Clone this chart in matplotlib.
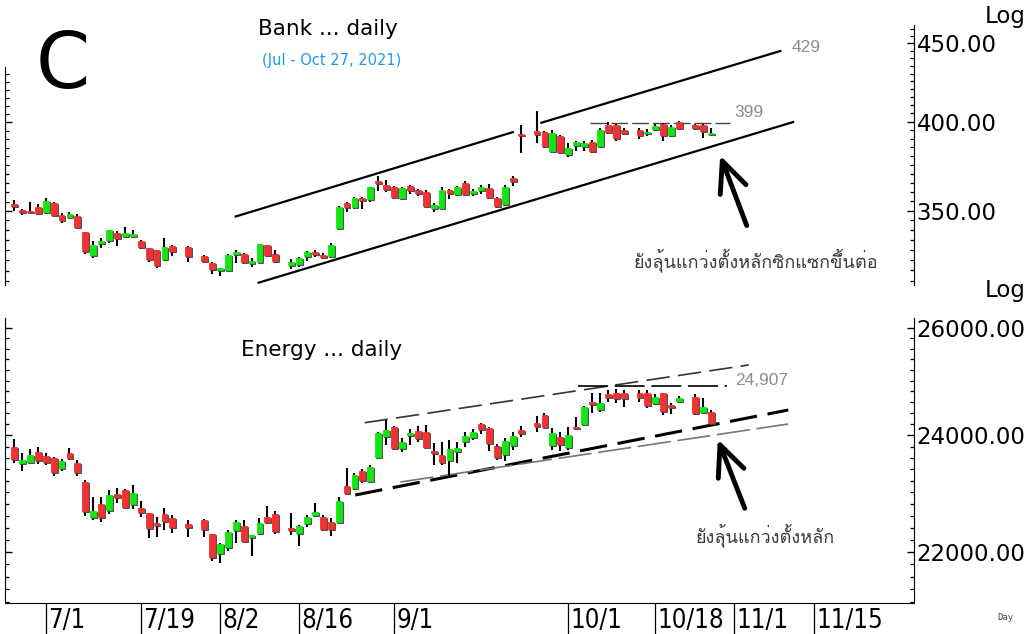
import numpy as np
import matplotlib
matplotlib.use("Agg")
import matplotlib.pyplot as plt
from matplotlib.ticker import FixedLocator, MultipleLocator, FormatStrFormatter, NullFormatter
from matplotlib.transforms import offset_copy
from matplotlib import font_manager
from matplotlib.font_manager import FontProperties

# trading days (Jul - Oct 27, 2021), x position = weekday count from the first day
dates = ['2021-06-25', '2021-06-28', '2021-06-29', '2021-06-30',
         '2021-07-01', '2021-07-02', '2021-07-05', '2021-07-06', '2021-07-07', '2021-07-08', '2021-07-09',
         '2021-07-12', '2021-07-13', '2021-07-14', '2021-07-15', '2021-07-16', '2021-07-19', '2021-07-20',
         '2021-07-21', '2021-07-22', '2021-07-23', '2021-07-27', '2021-07-29', '2021-07-30',
         '2021-08-02', '2021-08-03', '2021-08-04', '2021-08-05', '2021-08-06', '2021-08-09', '2021-08-10',
         '2021-08-11', '2021-08-13', '2021-08-16', '2021-08-17', '2021-08-18', '2021-08-19', '2021-08-20',
         '2021-08-23', '2021-08-24', '2021-08-25', '2021-08-26', '2021-08-27', '2021-08-30', '2021-08-31',
         '2021-09-01', '2021-09-02', '2021-09-03', '2021-09-06', '2021-09-07', '2021-09-08', '2021-09-09',
         '2021-09-10', '2021-09-13', '2021-09-14', '2021-09-15', '2021-09-16', '2021-09-17', '2021-09-20',
         '2021-09-21', '2021-09-22', '2021-09-23', '2021-09-27', '2021-09-28', '2021-09-29', '2021-09-30',
         '2021-10-01', '2021-10-04', '2021-10-05', '2021-10-06', '2021-10-07', '2021-10-08', '2021-10-11',
         '2021-10-12', '2021-10-14', '2021-10-15', '2021-10-18', '2021-10-19', '2021-10-20', '2021-10-21',
         '2021-10-25', '2021-10-26', '2021-10-27']

bank_open = [353.8, 350.4, 350.0, 352.1, 349.6, 354.2, 347.9, 346.8, 347.4, 338.9,
             327.5, 333.4, 335.2, 338.6, 337.2, 337.0, 334.5, 330.8, 330.1, 325.4,
             332.0, 331.5, 327.1, 323.8, 320.1, 320.1, 328.2, 328.2, 323.6, 324.3,
             332.3, 328.2, 322.7, 323.0, 326.9, 329.2, 327.5, 326.9, 341.3, 354.2,
             351.9, 356.8, 356.2, 365.8, 363.9, 362.9, 356.8, 363.4, 361.1, 360.2,
             351.4, 351.4, 361.1, 359.0, 365.0, 359.3, 361.1, 362.2, 356.8, 353.5,
             367.6, 392.9, 394.4, 393.8, 382.7, 391.3, 381.2, 386.4, 385.8, 388.1,
             386.0, 398.2, 398.2, 394.8, 394.8, 393.2, 395.4, 398.8, 392.2, 399.8,
             398.2, 398.2, 392.9]
bank_high = [355.7, 350.9, 354.4, 353.5, 356.7, 354.4, 348.9, 349.6, 348.3, 338.9,
             334.5, 335.9, 339.9, 339.6, 341.6, 340.1, 334.9, 330.8, 330.1, 335.9,
             332.3, 331.8, 327.5, 324.3, 321.4, 327.9, 330.1, 328.5, 325.9, 333.1,
             332.5, 329.9, 325.4, 326.6, 329.5, 329.9, 328.7, 333.5, 352.6, 354.4,
             357.5, 357.5, 362.9, 368.9, 366.6, 363.4, 362.5, 364.0, 361.6, 361.1,
             353.9, 362.5, 361.4, 363.4, 366.2, 361.4, 363.6, 364.4, 357.5, 363.6,
             368.9, 398.2, 406.8, 394.4, 394.8, 391.9, 387.3, 388.9, 388.9, 389.3,
             396.4, 399.8, 398.8, 396.4, 396.0, 395.6, 398.8, 399.2, 397.8, 400.2,
             398.8, 398.8, 396.0]
bank_low = [350.0, 347.9, 348.6, 347.9, 348.3, 347.4, 343.8, 346.1, 341.0, 327.9,
            325.9, 330.8, 333.6, 332.0, 336.5, 336.5, 330.3, 324.3, 321.0, 324.6,
            327.1, 324.3, 323.8, 318.2, 317.4, 319.8, 323.8, 323.3, 321.7, 323.8,
            326.6, 323.6, 320.6, 321.7, 324.6, 326.6, 326.2, 326.6, 340.0, 349.1,
            351.0, 351.0, 354.4, 360.7, 360.2, 356.8, 356.2, 359.0, 358.0, 352.1,
            349.6, 350.9, 356.2, 357.9, 358.3, 358.0, 359.0, 356.2, 351.4, 352.6,
            363.4, 381.6, 387.7, 384.6, 382.1, 381.5, 379.6, 382.7, 383.1, 381.5,
            385.0, 392.9, 388.9, 391.9, 389.9, 391.5, 394.4, 388.9, 390.8, 394.8,
            394.8, 390.1, 391.9]
bank_close = [352.6, 349.1, 349.1, 348.8, 354.9, 347.7, 345.1, 348.3, 341.7, 329.5,
              332.5, 334.5, 339.9, 335.9, 338.4, 337.9, 331.5, 325.4, 322.6, 331.5,
              329.5, 327.1, 324.6, 320.6, 321.1, 327.5, 329.2, 324.3, 324.6, 332.8,
              327.5, 324.6, 324.3, 326.2, 329.2, 327.9, 326.6, 332.5, 352.1, 352.1,
              356.8, 355.7, 362.5, 364.7, 361.6, 357.5, 362.0, 361.1, 359.3, 352.6,
              353.2, 361.1, 359.3, 362.9, 359.0, 360.3, 362.9, 357.1, 352.6, 362.9,
              365.8, 391.9, 392.9, 386.0, 393.2, 382.1, 384.6, 388.1, 387.7, 382.7,
              395.2, 393.8, 390.5, 393.2, 392.2, 394.0, 397.2, 392.2, 396.8, 396.2,
              396.4, 394.4, 393.6]

en_open = [23787, 23504, 23532, 23709, 23633, 23592, 23417, 23681, 23515, 23184,
           22586, 22802, 22700, 22972, 23041, 22802, 22739, 22643, 22476, 22632,
           22559, 22464, 22531, 22297, 21988, 22087, 22364, 22431, 22242, 22309,
           22576, 22632, 22392, 22309, 22476, 22615, 22576, 22502, 22502, 23110,
           23070, 23375, 23201, 23610, 23988, 24155, 23769, 24006, 24083, 24065,
           23727, 23651, 23562, 23727, 23904, 23965, 24204, 24126, 23810, 23668,
           23828, 24096, 24216, 24367, 23828, 23975, 23787, 24155, 24204, 24609,
           24471, 24746, 24765, 24765, 24765, 24776, 24591, 24765, 24549, 24628,
           24690, 24427, 24427]
en_high = [23934, 23681, 23751, 23798, 23681, 23610, 23574, 23769, 23562, 23213,
           22916, 22916, 23041, 23070, 23053, 23122, 22852, 22643, 22586, 22729,
           22615, 22531, 22542, 22297, 22153, 22364, 22531, 22531, 22280, 22559,
           22768, 22688, 22654, 22447, 22615, 22813, 22615, 22559, 22926, 23417,
           23330, 23400, 23475, 24065, 24275, 24168, 23946, 24108, 24168, 24186,
           23858, 23886, 23916, 23886, 24065, 24108, 24227, 24155, 23845, 23946,
           24065, 24168, 24348, 24398, 24126, 24065, 24155, 24336, 24531, 24776,
           24765, 24826, 24839, 24826, 24826, 24826, 24752, 24776, 24591, 24715,
           24752, 24672, 24458]
en_low = [23504, 23375, 23504, 23487, 23475, 23283, 23375, 23562, 23283, 22603,
          22531, 22502, 22632, 22824, 22729, 22712, 22586, 22225, 22246, 22364,
          22319, 22242, 22242, 21857, 21815, 22021, 22153, 22169, 21934, 22280,
          22464, 22297, 22280, 22098, 22419, 22586, 22352, 22264, 22476, 22985,
          23041, 23156, 23184, 23592, 23828, 23739, 23709, 23828, 23886, 23769,
          23475, 23475, 23271, 23504, 23798, 23916, 24024, 23727, 23562, 23550,
          23739, 23976, 24065, 24126, 23739, 23727, 23739, 24096, 24186, 24398,
          24427, 24609, 24591, 24518, 24609, 24489, 24549, 24367, 24385, 24591,
          24367, 24398, 24204]
en_close = [23580, 23562, 23651, 23562, 23532, 23358, 23545, 23592, 23347, 22688,
            22688, 22586, 22955, 22916, 22746, 22985, 22661, 22392, 22447, 22519,
            22419, 22409, 22380, 21923, 22131, 22335, 22502, 22186, 22280, 22476,
            22502, 22352, 22364, 22431, 22586, 22671, 22375, 22375, 22857, 22995,
            23300, 23213, 23435, 24047, 24096, 23769, 23886, 24047, 23946, 23798,
            23681, 23532, 23751, 23769, 23988, 24065, 24108, 23868, 23610, 23904,
            23988, 24047, 24168, 24155, 24047, 23845, 24006, 24126, 24507, 24567,
            24580, 24690, 24672, 24672, 24690, 24549, 24702, 24445, 24507, 24672,
            24398, 24518, 24227]

tick_dates = ['2021-07-01', '2021-07-19', '2021-08-02', '2021-08-16', '2021-09-01',
              '2021-10-01', '2021-10-18', '2021-11-01', '2021-11-15']
tick_labels = ['7/1', '7/19', '8/2', '8/16', '9/1', '10/1', '10/18', '11/1', '11/15']

# trend lines: (day index, price)
bank_upper = [[(28.0, 347.0), (63.0, 393.8)], [(66.6, 399.4), (96.8, 444.8)]]
bank_lower = [(30.9, 314.2), (98.4, 399.8)]
bank_res = [(72.8, 399), (90.4, 399)]
en_upper = [(44.3, 24227), (92.8, 25293)]
en_res = [(71.2, 24907), (90.1, 24907)]
en_lower = [(43.1, 22955), (97.8, 24458)]
en_lower2 = [(48.8, 23179), (97.8, 24204)]

thai_top = 'ยังลุ้นแกว่งตั้งหลักซิกแซกขึ้นต่อ'
thai_bot = 'ยังลุ้นแกว่งตั้งหลัก'


def has_glyphs(path, codes):
    try:
        from fontTools.ttLib import TTFont
        cm = TTFont(path, fontNumber=0, lazy=True).getBestCmap()
        return bool(cm) and all(c in cm for c in codes)
    except Exception:
        return False


# a font with Thai glyphs
thai_font = None
for fe in font_manager.fontManager.ttflist:
    if has_glyphs(fe.fname, [0x0E22, 0x0E49]):
        thai_font = fe.name
        break
thai_fam = [thai_font, 'DejaVu Sans'] if thai_font else ['DejaVu Sans']

# a narrow font for the date labels
cands = [fe for fe in font_manager.fontManager.ttflist
         if ('Narrow' in fe.name or 'Condensed' in fe.name or 'condensed' in str(fe.stretch))
         and fe.weight in (400, 'normal', 'regular') and fe.style == 'normal']
cands.sort(key=lambda fe: (0 if 'Liberation' in fe.name else 1 if 'DejaVu' in fe.name else 2))
if cands:
    narrow = FontProperties(fname=cands[0].fname, size=18.5)
else:
    narrow = FontProperties(family='DejaVu Sans', size=15)

start = dates[0]
x = np.busday_count(start, dates)
xt = np.busday_count(start, tick_dates)

W, H = 1027, 634
fig = plt.figure(figsize=(W / 100, H / 100), dpi=100)
ax1 = fig.add_axes([5 / W, 1 - 285 / H, 909 / W, 260 / H])
ax2 = fig.add_axes([5 / W, 1 - 603 / H, 909 / W, 285 / H])
# short left scale of the upper panel
ax1l = fig.add_axes([5 / W, 1 - 285 / H, 0.0001, 218 / H])

RED = '#F03232'
GREEN = '#14E614'


def candles(ax, o, h, l, c):
    o, h, l, c = map(np.asarray, (o, h, l, c))
    up = c >= o
    ax.vlines(x, l, h, color='black', lw=1.5, zorder=2)
    bot = np.minimum(o, c)
    ht = np.abs(c - o)
    sh = offset_copy(ax.transData, fig=fig, x=1.0, y=-1.0, units='dots')
    ax.bar(x, ht, width=0.74, bottom=bot, color='#444444', lw=0.6, edgecolor='#444444',
           transform=sh, zorder=2.5)
    ax.bar(x[up], ht[up], width=0.74, bottom=bot[up], color=GREEN, edgecolor=GREEN,
           lw=0.6, zorder=3)
    ax.bar(x[~up], ht[~up], width=0.74, bottom=bot[~up], color=RED, edgecolor=RED,
           lw=0.6, zorder=3)


def seg(ax, pts, **kw):
    ax.plot([p[0] for p in pts], [p[1] for p in pts], **kw)


candles(ax1, bank_open, bank_high, bank_low, bank_close)
candles(ax2, en_open, en_high, en_low, en_close)

for s in bank_upper:
    seg(ax1, s, color='black', lw=1.6, zorder=1)
seg(ax1, bank_lower, color='black', lw=1.6, zorder=1)
seg(ax1, bank_res, color='#444444', lw=1.0, dashes=(12, 3), zorder=1)

seg(ax2, en_upper, color='#333333', lw=1.2, dashes=(14, 5), zorder=1)
seg(ax2, en_res, color='black', lw=1.2, dashes=(18, 4), zorder=1)
seg(ax2, en_lower, color='black', lw=2.2, dashes=(9, 3.5), zorder=1)
seg(ax2, en_lower2, color='#777777', lw=1.2, dashes=(20, 4), zorder=1)

ax1.text(91.0, 405.6, '399', color='#8c8c8c', fontsize=12.5, va='center', ha='left',
         family='Liberation Sans')
ax1.text(98.2, 447.3, '429', color='#8c8c8c', fontsize=12.5, va='center', ha='left',
         family='Liberation Sans')
ax2.text(91.1, 25001, '24,907', color='#8c8c8c', fontsize=12.5, va='center', ha='left',
         family='Liberation Sans')

arrow = dict(arrowstyle='->,head_length=1.0,head_width=0.45', color='black', lw=3.5,
             mutation_scale=22, shrinkA=0, shrinkB=0)
ax1.annotate('', xy=(89.2, 380.3), xytext=(92.55, 342.3), arrowprops=arrow)
ax2.annotate('', xy=(88.9, 23929), xytext=(92.3, 22729), arrowprops=arrow)

for ax, lo, hi in ((ax1, 313.1, 462.5), (ax2, 21178.7, 26194.7), (ax1l, 313.1, 434.6)):
    ax.set_yscale('log')
    ax.set_ylim(lo, hi)
    ax.set_xlim(-1.14, 113.68)
    ax.patch.set_alpha(0)
    ax.spines['top'].set_visible(False)
    ax.tick_params(axis='y', which='both', left=True, right=True, labelleft=False,
                   labelright=True, direction='in', labelsize=16.5, pad=2)
    ax.tick_params(axis='y', which='major', length=5, width=1)
    ax.tick_params(axis='y', which='minor', length=3, width=0.9)
    ax.yaxis.set_major_formatter(FormatStrFormatter('%.2f'))
    ax.yaxis.set_minor_formatter(NullFormatter())

ax1.yaxis.set_major_locator(FixedLocator([350, 400, 450]))
ax1.yaxis.set_minor_locator(MultipleLocator(5))
ax1.spines['bottom'].set_visible(False)
ax1.spines['left'].set_visible(False)
ax1.tick_params(axis='y', which='both', left=False)
ax1.set_xticks([])

ax1l.yaxis.set_major_locator(FixedLocator([350, 400]))
ax1l.yaxis.set_minor_locator(MultipleLocator(5))
for side in ('right', 'bottom'):
    ax1l.spines[side].set_visible(False)
ax1l.tick_params(axis='y', which='both', right=False, labelright=False)
ax1l.set_xticks([])

ax2.yaxis.set_major_locator(FixedLocator([22000, 24000, 26000]))
ax2.yaxis.set_minor_locator(MultipleLocator(200))
ax2.set_xticks(xt)
ax2.set_xticklabels([])
ax2.tick_params(axis='x', which='major', direction='out', length=23, width=0.9)
for xv, lab in zip(xt, tick_labels):
    ax2.text(xv + 0.3, -25 / 285, lab, transform=ax2.get_xaxis_transform(), ha='left',
             va='baseline', fontproperties=narrow)

fig.text(328 / W, 1 - 29 / H, 'Bank ... daily', ha='center', va='center', fontsize=15.5)
fig.text(332 / W, 1 - 60 / H, '(Jul - Oct 27, 2021)', ha='center', va='center',
         fontsize=10.5, color='#1E9BE6')
fig.text(63 / W, 1 - 66 / H, 'C', ha='center', va='center', fontsize=56)
fig.text(322 / W, 1 - 350 / H, 'Energy ... daily', ha='center', va='center', fontsize=15.5)
fig.text(1005 / W, 1 - 17 / H, 'Log', ha='center', va='center', fontsize=16.5)
fig.text(1005 / W, 1 - 290 / H, 'Log', ha='center', va='center', fontsize=16.5)
fig.text(1005 / W, 1 - 618 / H, 'Day', ha='center', va='center', fontsize=6.5,
         family='DejaVu Sans Mono', color='#444444')
fig.text(756 / W, 1 - 260 / H, thai_top, ha='center', va='center', fontsize=13,
         color='#3c3c3c', family=thai_fam)
fig.text(765 / W, 1 - 535 / H, thai_bot, ha='center', va='center', fontsize=13,
         color='#3c3c3c', family=thai_fam)

fig.savefig('out.png', dpi=100, facecolor='white')
